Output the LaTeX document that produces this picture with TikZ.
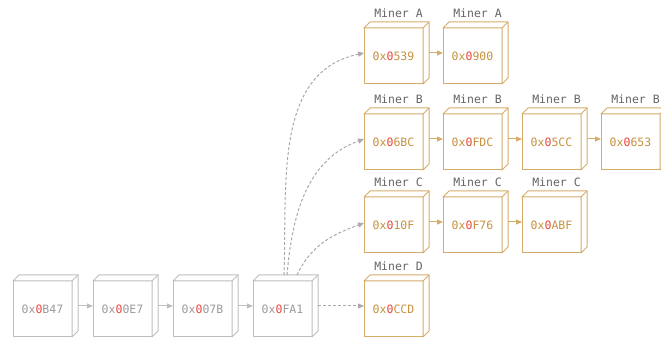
\documentclass[tikz,border=0pt]{standalone}
\usepackage{fontspec}
\setmonofont{DejaVu Sans Mono}
\usetikzlibrary{positioning, arrows.meta}
\definecolor{chaingrey}{RGB}{190,190,190}
\definecolor{hashgrey}{RGB}{155,155,155}
\definecolor{forkgrey}{RGB}{170,170,170}
\definecolor{minergold}{RGB}{214,172,105}
\definecolor{hashgold}{RGB}{198,146,62}
\definecolor{nonce}{RGB}{235,70,60}
\definecolor{labelgrey}{RGB}{100,100,100}
\newcommand{\hsh}[1]{0x\textcolor{nonce}{0}#1}
\tikzset{
every node/.style = {font = \ttfamily\fontsize{11.5}{13}\selectfont},
block/.style = {rectangle, line width = 1pt, minimum width = 59pt,
   minimum height = 56pt, inner sep = 0pt, outer sep = 0pt, fill = white},
chain/.style = {block, draw = chaingrey, text = hashgrey},
mined/.style = {block, draw = minergold, text = hashgold},
miner/.style = {label = {[text = labelgrey, label distance = 7pt, xshift = 5pt]above:Miner #1}},
depth/.style = {line width = 1pt, line join = round, fill = white},
link/.style = {-{Triangle[length = 6pt, width = 5pt]}, line width = 1pt},
fork/.style = {link, color = forkgrey, dash pattern = on 3pt off 2pt}
}

\begin{document}
\begin{tikzpicture}[x = 1pt, y = 1pt]

\clip (0,0) rectangle (661,339);

%% Main chain
\node [chain] (b1) at (42.5,30) {\hsh{B47}};
\node [chain] (b2) [right = 21pt of b1] {\hsh{0E7}};
\node [chain] (b3) [right = 21pt of b2] {\hsh{07B}};
\node [chain] (b4) [right = 21pt of b3] {\hsh{FA1}};

%% Miners
\node [mined, miner = D] (d1) [right = 52pt of b4] {\hsh{CCD}};
\node [mined, miner = C] (c1) [above = 28pt of d1] {\hsh{10F}};
\node [mined, miner = B] (m1) [above = 27pt of c1] {\hsh{6BC}};
\node [mined, miner = A] (a1) [above = 30pt of m1] {\hsh{539}};

\node [mined, miner = A] (a2) [right = 20pt of a1] {\hsh{900}};

\node [mined, miner = B] (m2) [right = 20pt of m1] {\hsh{FDC}};
\node [mined, miner = B] (m3) [right = 20pt of m2] {\hsh{5CC}};
\node [mined, miner = B] (m4) [right = 20pt of m3] {\hsh{653}};

\node [mined, miner = C] (c2) [right = 20pt of c1] {\hsh{F76}};
\node [mined, miner = C] (c3) [right = 20pt of c2] {\hsh{ABF}};

%% Top and side faces
\foreach \n/\col in {b1/chaingrey, b2/chaingrey, b3/chaingrey, b4/chaingrey,
   a1/minergold, a2/minergold, m1/minergold, m2/minergold, m3/minergold,
   m4/minergold, c1/minergold, c2/minergold, c3/minergold, d1/minergold}
{
\draw [depth, draw = \col] (\n.north west) -- ++(6,6) -- ++(59,0) -- ++(0,-56)
   -- (\n.south east) -- (\n.north east) -- cycle;
\draw [depth, draw = \col] (\n.north east) -- ++(6,6);
}

%% Links
\foreach \a/\b in {b1/b2, b2/b3, b3/b4}
\draw [link, color = chaingrey] ([shift = {(6,3)}]\a.east) -- ([yshift = 3pt]\b.west);

\foreach \a/\b in {a1/a2, m1/m2, m2/m3, m3/m4, c1/c2, c2/c3}
\draw [link, color = minergold] ([shift = {(6,3)}]\a.east) -- ([yshift = 3pt]\b.west);

%% Forks
\draw [fork] ([shift = {(1.5,6)}]b4.north) to [out = 88, in = 192] ([yshift = 3pt]a1.west);
\draw [fork] ([shift = {(4.5,6)}]b4.north) to [out = 85, in = 200] ([yshift = 3pt]m1.west);
\draw [fork] ([shift = {(14.5,6)}]b4.north) to [out = 65, in = 200] ([yshift = 2pt]c1.west);
\draw [fork] ([shift = {(6,3)}]b4.east) -- ([yshift = 3pt]d1.west);

\end{tikzpicture}
\end{document}
